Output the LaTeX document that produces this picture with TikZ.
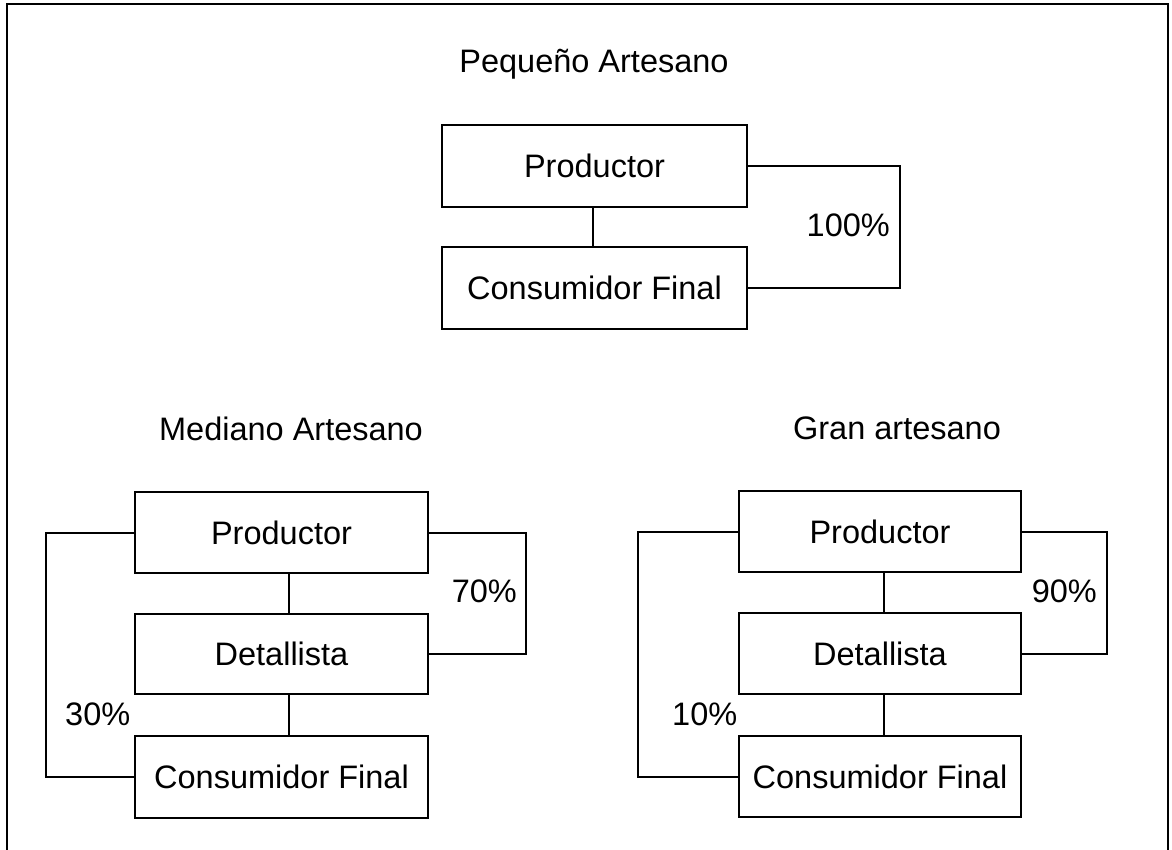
\documentclass[tikz,border=0pt]{standalone}
\usepackage{fontspec}
\setmainfont{Liberation Sans}
\tikzset{
    caja/.style={draw, line width=2pt, inner sep=0pt, anchor=north west},
    enlace/.style={line width=2pt},
    rotulo/.style={font=\fontsize{32.5}{39}\selectfont, inner sep=0pt}
}
\begin{document}
\begin{tikzpicture}[x=1pt, y=-1pt, every node/.style={rotulo}]
    \useasboundingbox (0,0) rectangle (1172,850);
    \draw[line width=2.5pt] (7,850) -- (7,4) -- (1168,4) -- (1168,850);
    % Pequeno artesano
    \node[anchor=base] (t1) at (594,73) {Pequeño Artesano};
    \node[caja, minimum width=305pt, minimum height=82pt] (p1) at (441,124) {Productor};
    \node[caja, minimum width=305pt, minimum height=82pt] (c1) at (441,246) {Consumidor Final};
    \draw[enlace] ([xshift=-2pt]p1.south) -- ([xshift=-2pt]c1.north);
    \draw[enlace] (p1.east) -- ++(152,0) |- (c1.east);
    \node[anchor=base east] (l1) at (890,237) {100\%};
    % Mediano artesano
    \node[anchor=base] (t2) at (291,440) {Mediano Artesano};
    \node[caja, minimum width=293pt, minimum height=81pt] (p2) at (134,491) {Productor};
    \node[caja, minimum width=293pt, minimum height=80pt] (d2) at (134,613) {Detallista};
    \node[caja, minimum width=293pt, minimum height=82pt] (c2) at (134,735) {Consumidor Final};
    \draw[enlace] ([xshift=7pt]p2.south) -- ([xshift=7pt]d2.north);
    \draw[enlace] ([xshift=7pt]d2.south) -- ([xshift=7pt]c2.north);
    \draw[enlace] (p2.east) -- ++(97,0) |- (d2.east);
    \draw[enlace] (p2.west) -- ++(-88,0) |- (c2.west);
    \node[anchor=base east] (l2) at (517,602) {70\%};
    \node[anchor=base west] (l3) at (65,725) {30\%};
    % Gran artesano
    \node[anchor=base] (t3) at (897,439) {Gran artesano};
    \node[caja, minimum width=282pt, minimum height=81pt] (p3) at (738,490) {Productor};
    \node[caja, minimum width=282pt, minimum height=81pt] (d3) at (738,612) {Detallista};
    \node[caja, minimum width=282pt, minimum height=81pt] (c3) at (738,735) {Consumidor Final};
    \draw[enlace] ([xshift=4pt]p3.south) -- ([xshift=4pt]d3.north);
    \draw[enlace] ([xshift=4pt]d3.south) -- ([xshift=4pt]c3.north);
    \draw[enlace] (p3.east) -- ++(85,0) |- (d3.east);
    \draw[enlace] (p3.west) -- ++(-100,0) |- (c3.west);
    \node[anchor=base east] (l4) at (1097,602) {90\%};
    \node[anchor=base west] (l5) at (672,725) {10\%};
\end{tikzpicture}
\end{document}
